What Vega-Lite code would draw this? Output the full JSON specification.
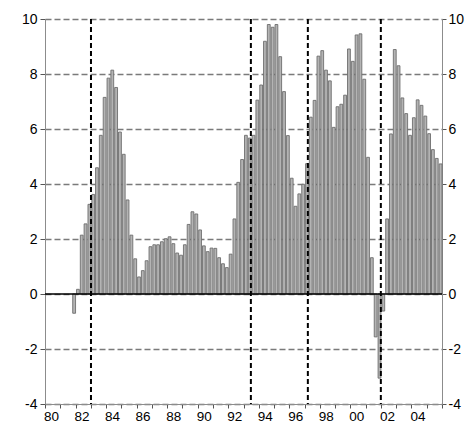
{
  "$schema": "https://vega.github.io/schema/vega-lite/v6.json",
  "width": 397,
  "height": 385,
  "autosize": {"type": "none"},
  "padding": {"left": 45, "top": 19, "right": 32, "bottom": 21},
  "config": {
    "view": {"stroke": null},
    "axis": {"domainColor": "#8c8c8c", "tickColor": "#555", "labelFont": "Liberation Sans", "labelColor": "#000", "labelFontSize": 13.5}
  },
  "datasets": {
    "growth": [
      {"q": "1981-10-01", "v": -0.70},
      {"q": "1982-01-01", "v": 0.17},
      {"q": "1982-04-01", "v": 2.14},
      {"q": "1982-07-01", "v": 2.55},
      {"q": "1982-10-01", "v": 3.26},
      {"q": "1983-01-01", "v": 3.62},
      {"q": "1983-04-01", "v": 4.59},
      {"q": "1983-07-01", "v": 5.77},
      {"q": "1983-10-01", "v": 7.15},
      {"q": "1984-01-01", "v": 7.85},
      {"q": "1984-04-01", "v": 8.14},
      {"q": "1984-07-01", "v": 7.51},
      {"q": "1984-10-01", "v": 5.89},
      {"q": "1985-01-01", "v": 5.08},
      {"q": "1985-04-01", "v": 3.42},
      {"q": "1985-07-01", "v": 2.14},
      {"q": "1985-10-01", "v": 1.28},
      {"q": "1986-01-01", "v": 0.62},
      {"q": "1986-04-01", "v": 0.85},
      {"q": "1986-07-01", "v": 1.21},
      {"q": "1986-10-01", "v": 1.72},
      {"q": "1987-01-01", "v": 1.79},
      {"q": "1987-04-01", "v": 1.79},
      {"q": "1987-07-01", "v": 1.90},
      {"q": "1987-10-01", "v": 2.01},
      {"q": "1988-01-01", "v": 2.08},
      {"q": "1988-04-01", "v": 1.83},
      {"q": "1988-07-01", "v": 1.49},
      {"q": "1988-10-01", "v": 1.41},
      {"q": "1989-01-01", "v": 1.79},
      {"q": "1989-04-01", "v": 2.53},
      {"q": "1989-07-01", "v": 2.99},
      {"q": "1989-10-01", "v": 2.91},
      {"q": "1990-01-01", "v": 2.33},
      {"q": "1990-04-01", "v": 1.75},
      {"q": "1990-07-01", "v": 1.54},
      {"q": "1990-10-01", "v": 1.67},
      {"q": "1991-01-01", "v": 1.66},
      {"q": "1991-04-01", "v": 1.32},
      {"q": "1991-07-01", "v": 1.10},
      {"q": "1991-10-01", "v": 0.96},
      {"q": "1992-01-01", "v": 1.45},
      {"q": "1992-04-01", "v": 2.73},
      {"q": "1992-07-01", "v": 4.06},
      {"q": "1992-10-01", "v": 4.89},
      {"q": "1993-01-01", "v": 5.77},
      {"q": "1993-04-01", "v": 5.67},
      {"q": "1993-07-01", "v": 5.77},
      {"q": "1993-10-01", "v": 7.05},
      {"q": "1994-01-01", "v": 7.60},
      {"q": "1994-04-01", "v": 9.19},
      {"q": "1994-07-01", "v": 9.80},
      {"q": "1994-10-01", "v": 9.70},
      {"q": "1995-01-01", "v": 9.80},
      {"q": "1995-04-01", "v": 8.63},
      {"q": "1995-07-01", "v": 7.36},
      {"q": "1995-10-01", "v": 5.76},
      {"q": "1996-01-01", "v": 4.21},
      {"q": "1996-04-01", "v": 3.19},
      {"q": "1996-07-01", "v": 3.64},
      {"q": "1996-10-01", "v": 3.99},
      {"q": "1997-01-01", "v": 4.74},
      {"q": "1997-04-01", "v": 6.43},
      {"q": "1997-07-01", "v": 7.04},
      {"q": "1997-10-01", "v": 8.65},
      {"q": "1998-01-01", "v": 8.85},
      {"q": "1998-04-01", "v": 8.14},
      {"q": "1998-07-01", "v": 7.75},
      {"q": "1998-10-01", "v": 6.06},
      {"q": "1999-01-01", "v": 6.81},
      {"q": "1999-04-01", "v": 6.90},
      {"q": "1999-07-01", "v": 7.23},
      {"q": "1999-10-01", "v": 8.91},
      {"q": "2000-01-01", "v": 8.46},
      {"q": "2000-04-01", "v": 9.42},
      {"q": "2000-07-01", "v": 9.46},
      {"q": "2000-10-01", "v": 7.81},
      {"q": "2001-01-01", "v": 4.97},
      {"q": "2001-04-01", "v": 1.32},
      {"q": "2001-07-01", "v": -1.56},
      {"q": "2001-10-01", "v": -3.06},
      {"q": "2002-01-01", "v": -0.62},
      {"q": "2002-04-01", "v": 2.73},
      {"q": "2002-07-01", "v": 5.82},
      {"q": "2002-10-01", "v": 8.89},
      {"q": "2003-01-01", "v": 8.30},
      {"q": "2003-04-01", "v": 7.13},
      {"q": "2003-07-01", "v": 6.56},
      {"q": "2003-10-01", "v": 5.77},
      {"q": "2004-01-01", "v": 6.41},
      {"q": "2004-04-01", "v": 7.06},
      {"q": "2004-07-01", "v": 6.86},
      {"q": "2004-10-01", "v": 6.47},
      {"q": "2005-01-01", "v": 5.83},
      {"q": "2005-04-01", "v": 5.25},
      {"q": "2005-07-01", "v": 4.93},
      {"q": "2005-10-01", "v": 4.73}
    ],
    "markers": [
      {"d": "1983-01-05"},
      {"d": "1993-06-26"},
      {"d": "1997-03-20"},
      {"d": "2001-12-30"}
    ]
  },
  "layer": [
    {
      "data": {"name": "growth"},
      "mark": {"type": "bar", "fill": "#b4b4b4", "stroke": "#6e6e6e", "strokeWidth": 0.9},
      "encoding": {
        "x": {
          "field": "q", "type": "temporal", "timeUnit": "utcyearquarter",
          "scale": {"type": "utc", "domain": [{"year": 1980, "month": 1, "date": 1, "utc": true}, {"year": 2006, "month": 1, "date": 1, "utc": true}], "nice": false},
          "axis": {
            "tickCount": {"interval": "year", "step": 1},
            "labelExpr": "utcyear(datum.value) % 2 == 0 && utcyear(datum.value) < 2006 ? utcFormat(datum.value, '%y') : ''",
            "labelOffset": 6, "labelFlush": false, "labelOverlap": false, "labelPadding": 1,
            "tickSize": 4, "grid": false, "title": null
          }
        },
        "y": {
          "field": "v", "type": "quantitative",
          "scale": {"domain": [-4, 10], "nice": false, "zero": false},
          "axis": {
            "orient": "left", "values": [-4, -2, 0, 2, 4, 6, 8, 10],
            "labelExpr": "'' + datum.value", "labelFontSize": 14,
            "grid": true, "gridColor": "#7a7a7a", "gridDash": [6, 3], "gridWidth": 1.5,
            "tickSize": 5, "labelPadding": 3, "title": null
          }
        }
      }
    },
    {
      "data": {"values": [{"z": 0}]},
      "mark": {"type": "rule", "color": "#000", "strokeWidth": 1.5},
      "encoding": {
        "y": {
          "field": "z", "type": "quantitative",
          "scale": {"domain": [-4, 10], "nice": false, "zero": false},
          "axis": {"orient": "right", "values": [-4, -2, 0, 2, 4, 6, 8, 10], "grid": false,
            "labelExpr": "'' + datum.value", "labelFontSize": 14,
            "tickSize": 4, "labelPadding": 2, "title": null}
        }
      }
    },
    {
      "data": {"name": "markers"},
      "mark": {"type": "rule", "color": "#000", "strokeWidth": 2, "strokeDash": [5, 3]},
      "encoding": {
        "x": {"field": "d", "type": "temporal", "scale": {"type": "utc"}}
      }
    }
  ],
  "resolve": {"scale": {"y": "independent"}}
}
